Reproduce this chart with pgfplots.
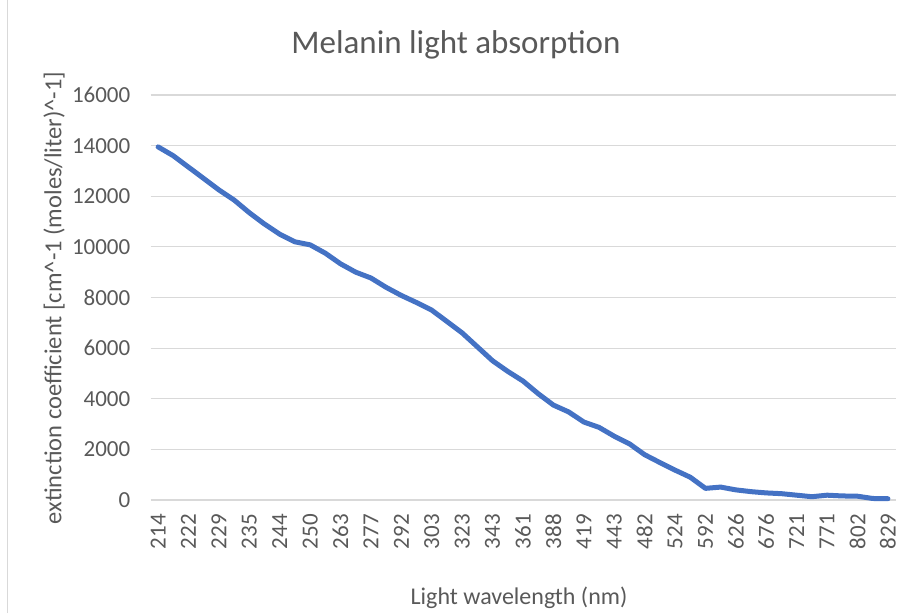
\documentclass[border=0pt]{standalone}
\usepackage{fontspec}
\setmainfont{Carlito}
\usepackage{pgfplots}
\pgfplotsset{compat=1.18}
\usepackage{pgfplotstable}
\definecolor{txt}{HTML}{595959}
\definecolor{gridc}{HTML}{D9D9D9}
\definecolor{xlblue}{RGB}{68,114,196}
\pgfplotstableread{
i y
0 13950
1 13600
2 13150
3 12700
4 12250
5 11850
6 11350
7 10900
8 10500
9 10200
10 10080
11 9750
12 9330
13 9000
14 8770
15 8400
16 8080
17 7800
18 7500
19 7050
20 6600
21 6050
22 5500
23 5080
24 4700
25 4200
26 3750
27 3480
28 3080
29 2870
30 2520
31 2220
32 1790
33 1480
34 1180
35 900
36 460
37 510
38 400
39 330
40 280
41 250
42 190
43 130
44 190
45 160
46 150
47 60
48 50
}\melanin
\begin{document}
\begin{tikzpicture}[x=1pt,y=1pt]
\path[use as bounding box] (0,0) rectangle (909,613);
\draw[gridc, line width=1pt] (7,0) -- (7,613);
\begin{axis}[
  at={(150.5pt,113pt)}, anchor=south west,
  scale only axis, width=745pt, height=405pt,
  xmin=-0.5, xmax=48.5, ymin=0, ymax=16000,
  axis line style={draw=none},
  tick style={draw=none},
  ymajorgrids, major grid style={gridc, line width=1.2pt},
  ytick={0,2000,...,16000},
  xtick={0,2,...,48},
  xticklabels={214,222,229,235,244,250,263,277,292,303,323,343,361,388,419,443,482,524,592,626,676,721,771,802,829},
  /pgf/number format/assume math mode=true,
  /pgf/number format/1000 sep={},
  scaled y ticks=false,
  yticklabel style={anchor=east, inner sep=0pt, xshift=-20pt, font=\fontsize{23}{26}\selectfont, text=txt},
  xticklabel style={yshift=-14pt, rotate=90, anchor=east, inner sep=0pt, font=\fontsize{23}{26}\selectfont, text=txt},
  clip=false,
]
\addplot[xlblue, line width=5pt, line join=round, line cap=round] table[x=i,y=y] {\melanin};
\end{axis}
\node[text=txt, font=\fontsize{33}{38}\selectfont] at (456,568) {Melanin light absorption};
\node[text=txt, font=\fontsize{24.5}{28}\selectfont, rotate=90] at (54,315) {extinction coefficient [cm\^{}-1 (moles/liter)\^{}-1]};
\node[text=txt, font=\fontsize{24}{28}\selectfont, inner sep=0pt] at (519,15) {Light wavelength (nm)};
\end{tikzpicture}
\end{document}
